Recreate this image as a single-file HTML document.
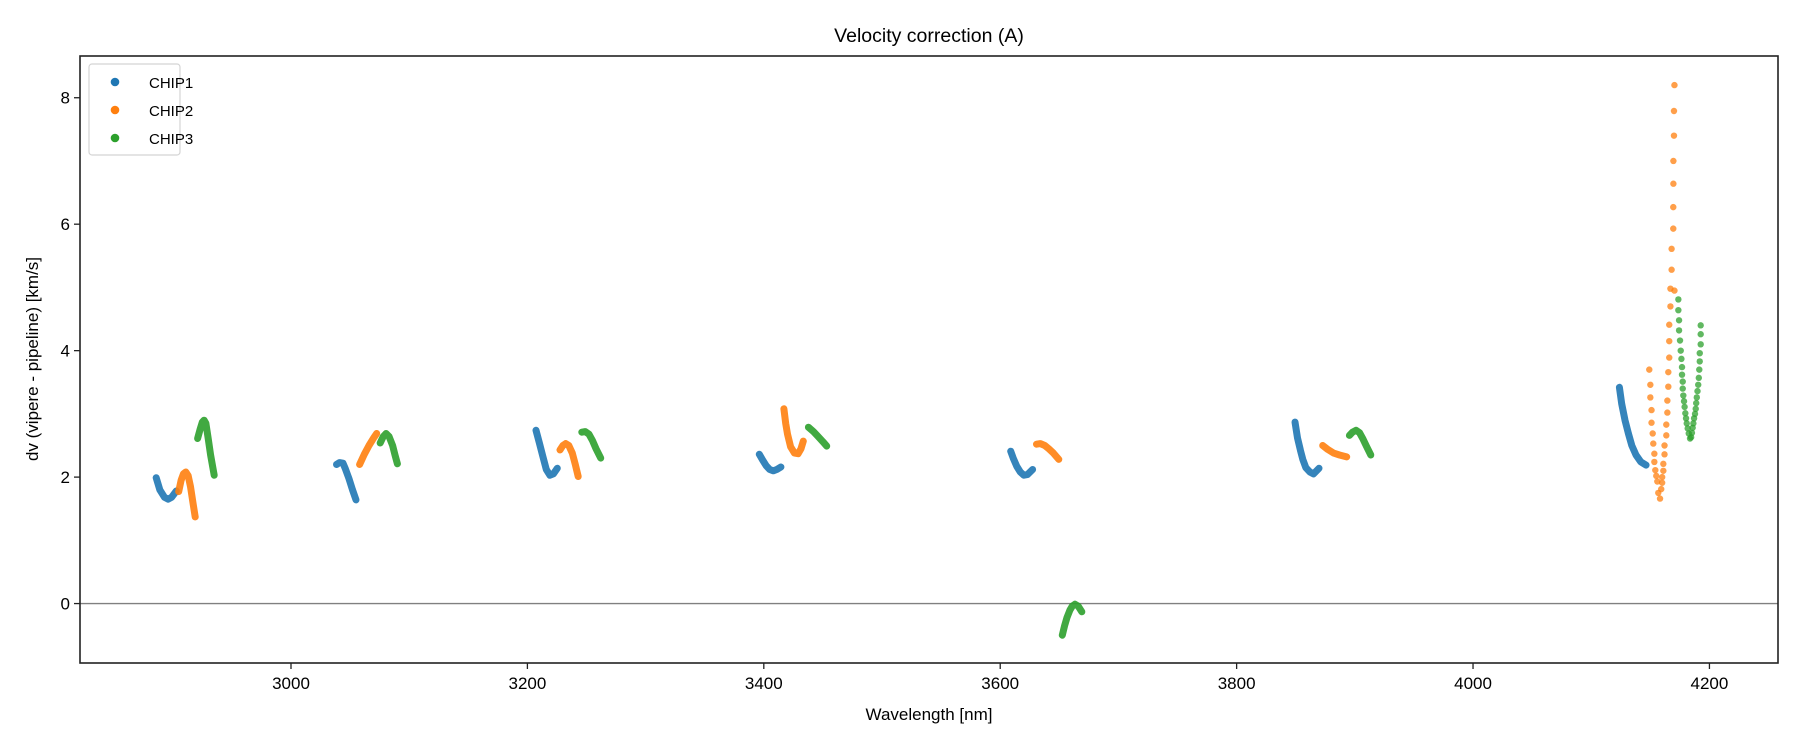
<!DOCTYPE html>
<html><head><meta charset="utf-8">
<style>
html,body{margin:0;padding:0;background:#fff;}
svg{display:block;font-family:"Liberation Sans","DejaVu Sans",sans-serif;}
</style></head>
<body>
<svg id="chart" width="1800" height="750" viewBox="0 0 1800 750" xmlns="http://www.w3.org/2000/svg">
<rect width="1800" height="750" fill="#fff"/>
<text x="929" y="42" font-size="19.5" text-anchor="middle" fill="#000">Velocity correction (A)</text>
<g id="grid"></g>
<g id="marks"></g>
<rect x="80" y="56" width="1698" height="607" fill="none" stroke="#222" stroke-width="1.6"/>
<g id="ticks"></g>
<text x="929" y="720" font-size="17" text-anchor="middle">Wavelength [nm]</text>
<text transform="translate(38,359) rotate(-90)" font-size="17" text-anchor="middle">dv (vipere - pipeline) [km/s]</text>
<g>
<rect x="89" y="64" width="91" height="91" rx="3" fill="#fff" stroke="#d4d4d4" stroke-width="1.2"/>
<circle cx="115" cy="82" r="4.3" fill="#1f77b4"/>
<text x="149" y="88" font-size="15">CHIP1</text>
<circle cx="115" cy="110" r="4.3" fill="#ff7f0e"/>
<text x="149" y="116" font-size="15">CHIP2</text>
<circle cx="115" cy="138" r="4.3" fill="#2ca02c"/>
<text x="149" y="144" font-size="15">CHIP3</text>
</g>
</svg>
<script>
const xTicks = [3000, 3200, 3400, 3600, 3800, 4000, 4200];
const yTicks = [0, 2, 4, 6, 8];
const chip1X = [
 [2886,2889,2893,2896,2899,2903],
 [3038.5,3041,3044,3046,3049,3052,3055],
 [3207.3,3210,3213,3216,3219,3222,3225.3],
 [3396.2,3399,3402,3405,3408,3411,3414.5],
 [3608.9,3611,3614,3617,3620,3623,3627.4],
 [3849.4,3851.5,3854,3856,3858.5,3862,3865,3869.7],
 [4123.8,4125.8,4128.6,4131.4,4134.3,4137.9,4141.9,4146.4]
];
const chip1Y = [
 [1.99,1.80,1.68,1.65,1.68,1.78],
 [2.20,2.23,2.22,2.13,1.98,1.80,1.64],
 [2.74,2.55,2.33,2.12,2.03,2.05,2.14],
 [2.36,2.27,2.18,2.12,2.10,2.12,2.16],
 [2.41,2.30,2.17,2.08,2.03,2.04,2.12],
 [2.87,2.62,2.42,2.28,2.15,2.08,2.05,2.14],
 [3.42,3.16,2.90,2.69,2.50,2.35,2.24,2.19]
];
const chip2X = [
 [2905,2907,2909,2911,2913,2915,2917,2919],
 [3058,3062,3066,3070,3072.5],
 [3227.6,3230,3232.4,3235,3238,3240.5,3243],
 [3417,3418.5,3420,3422.7,3426,3429,3431.5,3433.4],
 [3630.7,3634,3637.7,3641,3645,3649.6],
 [3872.8,3877,3882,3887,3893.1]
];
const chip2Y = [
 [1.77,1.95,2.05,2.08,2.02,1.85,1.60,1.37],
 [2.20,2.36,2.50,2.62,2.69],
 [2.43,2.50,2.53,2.50,2.38,2.20,2.01],
 [3.08,2.85,2.68,2.48,2.38,2.37,2.45,2.57],
 [2.52,2.53,2.50,2.45,2.38,2.28],
 [2.50,2.44,2.38,2.35,2.32]
];
const chip3X = [
 [2921,2923,2925,2926.5,2928,2930,2932,2935],
 [3075.5,3078,3080.5,3083,3086,3088,3090],
 [3246,3249,3252,3255,3258,3262],
 [3437.7,3442,3446,3450,3453.2],
 [3652.5,3654.5,3656.5,3659,3661,3663.3,3666,3669],
 [3895.4,3898,3901,3904,3907,3910,3913.5]
];
const chip3Y = [
 [2.61,2.75,2.87,2.90,2.85,2.60,2.35,2.03],
 [2.54,2.64,2.69,2.64,2.50,2.35,2.21],
 [2.71,2.72,2.68,2.58,2.45,2.30],
 [2.79,2.72,2.64,2.56,2.49],
 [-0.50,-0.35,-0.22,-0.10,-0.04,-0.01,-0.04,-0.13],
 [2.66,2.71,2.74,2.70,2.60,2.48,2.35]
];
const chip2SparseX = [4149.1,4150,4150,4151,4151,4152,4152.5,4153.4,4153.4,4154.2,4155,4155.9,4156.7,4158.2,4159.2,4160,4160,4161,4161,4162,4162,4163.5,4163.5,4164.4,4164.4,4165.2,4165.2,4166,4166,4166,4167,4167,4168,4168,4169.4,4169.4];
const chip2SparseY = [3.70,3.46,3.26,3.06,2.86,2.69,2.53,2.37,2.24,2.11,2.02,1.93,1.75,1.66,1.81,1.91,2.00,2.10,2.21,2.36,2.50,2.66,2.83,3.02,3.21,3.43,3.66,3.89,4.15,4.41,4.70,4.98,5.28,5.61,5.93,6.27];
const chip2SparseX2 = [4169.5,4169.5,4170,4170,4170.4,4170.4];
const chip2SparseY2 = [6.64,7.00,7.40,7.79,8.20,4.95];
const chip3SparseX = [4173.7,4173.7,4174.3,4174.3,4175.1,4175.7,4176.3,4176.8,4176.8,4177.4,4177.4,4177.9,4178.5,4179,4179.6,4180.2,4180.8,4181.6,4182.5,4183.6,4184.5,4185.2,4185.8,4186.4,4187,4187.8,4188.4,4188.8,4189.3,4189.9,4190.5,4191,4191.4,4191.8,4191.8,4192.6,4192.6,4192.6];
const chip3SparseY = [4.81,4.64,4.48,4.32,4.16,4.00,3.87,3.74,3.62,3.51,3.40,3.29,3.20,3.11,3.01,2.93,2.85,2.77,2.69,2.61,2.63,2.70,2.78,2.85,2.93,3.00,3.08,3.17,3.26,3.36,3.46,3.57,3.70,3.83,3.96,4.10,4.26,4.40];

const X0=80, X1=1778, Y0=56, Y1=663;
const xMin=2821.5, xMax=4258, yMin=-0.94, yMax=8.66;
const sx = v => X0 + (v - xMin) / (xMax - xMin) * (X1 - X0);
const sy = v => Y1 - (v - yMin) / (yMax - yMin) * (Y1 - Y0);
const NS = 'http://www.w3.org/2000/svg';
const marks = document.getElementById('marks');
const ticks = document.getElementById('ticks');
const grid = document.getElementById('grid');

const zl = document.createElementNS(NS,'line');
zl.setAttribute('x1',X0); zl.setAttribute('x2',X1);
zl.setAttribute('y1',sy(0)); zl.setAttribute('y2',sy(0));
zl.setAttribute('stroke','#808080'); zl.setAttribute('stroke-width','1.3');


grid.appendChild(zl);

xTicks.forEach(t => {
  const l = document.createElementNS(NS,'line');
  l.setAttribute('x1',sx(t)); l.setAttribute('x2',sx(t));
  l.setAttribute('y1',Y1); l.setAttribute('y2',Y1+6);
  l.setAttribute('stroke','#222'); l.setAttribute('stroke-width','1.3');
  
  
  ticks.appendChild(l);
  const tx = document.createElementNS(NS,'text');
  tx.setAttribute('x',sx(t)); tx.setAttribute('y',Y1+26);
  tx.setAttribute('font-size','17'); tx.setAttribute('text-anchor','middle');
  tx.textContent = t;
  
  
  ticks.appendChild(tx);
});
yTicks.forEach(t => {
  const l = document.createElementNS(NS,'line');
  l.setAttribute('x1',X0-6); l.setAttribute('x2',X0);
  l.setAttribute('y1',sy(t)); l.setAttribute('y2',sy(t));
  l.setAttribute('stroke','#222'); l.setAttribute('stroke-width','1.3');
  
  
  ticks.appendChild(l);
  const tx = document.createElementNS(NS,'text');
  tx.setAttribute('x',X0-10); tx.setAttribute('y',sy(t)+6);
  tx.setAttribute('font-size','17'); tx.setAttribute('text-anchor','end');
  tx.textContent = t;
  
  
  ticks.appendChild(tx);
});

function drawSegments(xs, ys, color, name) {
  xs.forEach((seg, i) => {
    const pts = seg.map((x, j) => sx(x).toFixed(1) + ',' + sy(ys[i][j]).toFixed(1)).join(' ');
    const p = document.createElementNS(NS,'polyline');
    p.setAttribute('points', pts);
    p.setAttribute('fill','none'); p.setAttribute('stroke',color);
    p.setAttribute('stroke-width','7'); p.setAttribute('stroke-linecap','round');
    p.setAttribute('stroke-linejoin','round'); p.setAttribute('opacity','0.9');
    
    
    marks.appendChild(p);
  });
}
function drawDots(xs, ys, color, name) {
  xs.forEach((x, i) => {
    const c = document.createElementNS(NS,'circle');
    c.setAttribute('cx', sx(x)); c.setAttribute('cy', sy(ys[i]));
    c.setAttribute('r','3.2'); c.setAttribute('fill',color); c.setAttribute('opacity','0.75');
    
    
    marks.appendChild(c);
  });
}
drawSegments(chip1X, chip1Y, '#1f77b4', 'chip1-segment');
drawSegments(chip2X, chip2Y, '#ff7f0e', 'chip2-segment');
drawSegments(chip3X, chip3Y, '#2ca02c', 'chip3-segment');
drawDots(chip2SparseX, chip2SparseY, '#ff7f0e', 'chip2-point');
drawDots(chip2SparseX2, chip2SparseY2, '#ff7f0e', 'chip2-point');
drawDots(chip3SparseX, chip3SparseY, '#2ca02c', 'chip3-point');
</script>
</body></html>
